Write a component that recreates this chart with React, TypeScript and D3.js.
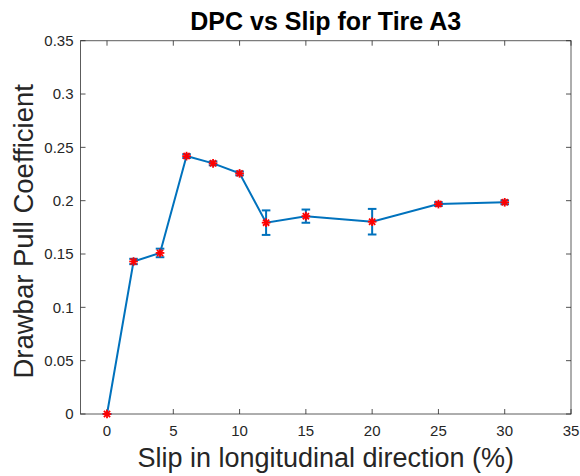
import React from "react";
import * as d3 from "d3";

const slip = [0, 2, 4, 6, 8, 10, 12, 15, 20, 25, 30];
const dpc = [0, 0.143, 0.151, 0.2418, 0.235, 0.2256, 0.1794, 0.1855, 0.1803, 0.1968, 0.1985];
const errs = [0, 0.0025, 0.004, 0.0018, 0.0018, 0.0018, 0.0115, 0.0062, 0.012, 0.0018, 0.0018];
const xTicks = [0, 5, 10, 15, 20, 25, 30, 35];
const yTicks = [0, 0.05, 0.1, 0.15, 0.2, 0.25, 0.3, 0.35];

const W = 580;
const H = 476;
const left = 80.5;
const right = 571;
const top = 40.7;
const bottom = 414;
const font = "'Liberation Sans', Arial, Helvetica, sans-serif";
const axisColor = "#262626";
const lineColor = "#0072BD";

export default function App() {
  const x = d3.scaleLinear().domain([-2, 35]).range([left, right]);
  const y = d3.scaleLinear().domain([0, 0.35]).range([bottom, top]);
  const pts = slip.map((s, i) => [s, dpc[i]] as [number, number]);
  const line = d3
    .line<[number, number]>()
    .x((d) => x(d[0]))
    .y((d) => y(d[1]))(pts);
  const tickLen = 5;
  const cap = 4.3;
  const star = 4.3;

  return (
    <svg
      width={W}
      height={H}
      style={{ position: "absolute", left: 0, top: 0, background: "#fff" }}
      fontFamily={font}
    >
      <rect x={0} y={0} width={W} height={H} fill="#fff" />
      {/* x ticks on bottom and top edges */}
      {xTicks.map((t) => (
        <g key={"xt" + t}>
          <line x1={x(t)} x2={x(t)} y1={bottom} y2={bottom - tickLen} stroke={axisColor} strokeWidth={0.8} />
          <line x1={x(t)} x2={x(t)} y1={top} y2={top + tickLen} stroke={axisColor} strokeWidth={0.8} />
          <text x={x(t)} y={bottom + 21.5} fontSize={15} fill={axisColor} textAnchor="middle">
            {t}
          </text>
        </g>
      ))}
      {/* y ticks on left and right edges */}
      {yTicks.map((t) => (
        <g key={"yt" + t}>
          <line x1={left} x2={left + tickLen} y1={y(t)} y2={y(t)} stroke={axisColor} strokeWidth={0.8} />
          <line x1={right} x2={right - tickLen} y1={y(t)} y2={y(t)} stroke={axisColor} strokeWidth={0.8} />
          <text x={left - 7} y={y(t) + 5.3} fontSize={15} fill={axisColor} textAnchor="end">
            {t === 0 ? "0" : String(t)}
          </text>
        </g>
      ))}
      <rect
        x={left}
        y={top}
        width={right - left}
        height={bottom - top}
        fill="none"
        stroke={axisColor}
        strokeOpacity={0.75}
        strokeWidth={1}
      />
      {/* data line */}
      <path d={line ?? ""} fill="none" stroke={lineColor} strokeWidth={2} />
      {/* error bars */}
      {slip.map((s, i) => (
        <g key={"e" + i} stroke={lineColor} strokeWidth={2}>
          <line x1={x(s)} x2={x(s)} y1={y(dpc[i] - errs[i])} y2={y(dpc[i] + errs[i])} />
          <line x1={x(s) - cap} x2={x(s) + cap} y1={y(dpc[i] - errs[i])} y2={y(dpc[i] - errs[i])} />
          <line x1={x(s) - cap} x2={x(s) + cap} y1={y(dpc[i] + errs[i])} y2={y(dpc[i] + errs[i])} />
        </g>
      ))}
      {/* asterisk markers */}
      {slip.map((s, i) => {
        const cx = x(s);
        const cy = y(dpc[i]);
        const d = star * 0.72;
        return (
          <g key={"m" + i} stroke="#ff0000" strokeWidth={1.8}>
            <line x1={cx - star} x2={cx + star} y1={cy} y2={cy} />
            <line x1={cx} x2={cx} y1={cy - star} y2={cy + star} />
            <line x1={cx - d} x2={cx + d} y1={cy - d} y2={cy + d} />
            <line x1={cx - d} x2={cx + d} y1={cy + d} y2={cy - d} />
          </g>
        );
      })}
      <text
        x={(left + right) / 2}
        y={30}
        fontSize={25}
        fontWeight="bold"
        fill="#000"
        textAnchor="middle"
      >
        DPC vs Slip for Tire A3
      </text>
      <text
        x={(left + right) / 2}
        y={467}
        fontSize={27}
        fill={axisColor}
        textAnchor="middle"
      >
        Slip in longitudinal direction (%)
      </text>
      <text
        transform={`translate(33, ${(top + bottom) / 2 + 4}) rotate(-90)`}
        fontSize={27.5}
        fill={axisColor}
        textAnchor="middle"
      >
        Drawbar Pull Coefficient
      </text>
    </svg>
  );
}
